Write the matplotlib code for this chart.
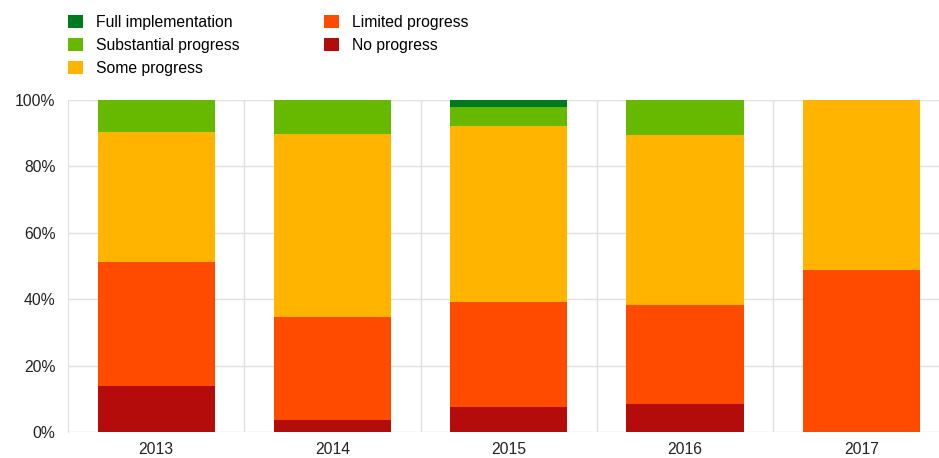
import numpy as np
import matplotlib.pyplot as plt
from matplotlib.patches import Patch

plt.rcParams["font.family"] = ["Liberation Sans", "DejaVu Sans"]

years = ["2013", "2014", "2015", "2016", "2017"]

# shares of recommendations by implementation status, in %
no_progress = [13.8, 3.6, 7.5, 8.4, 0.0]
limited_progress = [37.3, 31.1, 31.7, 29.8, 48.8]
some_progress = [39.1, 54.9, 53.0, 51.2, 51.2]
substantial_progress = [9.8, 10.4, 5.7, 10.6, 0.0]
full_implementation = [0.0, 0.0, 2.1, 0.0, 0.0]

series = [
    ("No progress", no_progress, "#b40b0b"),
    ("Limited progress", limited_progress, "#ff4b00"),
    ("Some progress", some_progress, "#ffb400"),
    ("Substantial progress", substantial_progress, "#67b900"),
    ("Full implementation", full_implementation, "#007a1e"),
]

fig = plt.figure(figsize=(9.39, 4.58), dpi=100)
ax = fig.add_axes([0.0724, 0.0568, 0.9276, 0.7255])

x = np.arange(len(years))
bottom = np.zeros(len(years))
for name, vals, color in series:
    vals = np.array(vals)
    ax.bar(x, vals, width=0.665, bottom=bottom, color=color,
           edgecolor="none", zorder=3)
    bottom += vals

ax.set_xlim(-0.5, 4.44)
ax.set_ylim(0, 100)
ax.set_yticks(np.arange(0, 101, 20))
ax.set_yticklabels([f"{v}%" for v in range(0, 101, 20)])
ax.set_xticks(x)
ax.set_xticklabels(years)

# horizontal grid plus separators between the year columns
ax.grid(axis="y", color="#e0e0e0", linewidth=1, zorder=0)
for sep in np.arange(0.5, len(years) - 1, 1.0):
    ax.axvline(sep, color="#e0e0e0", linewidth=1, zorder=0)
for side in ["top", "right", "bottom"]:
    ax.spines[side].set_visible(False)
ax.spines["left"].set_color("#e0e0e0")
ax.tick_params(length=0, labelsize=11.3, colors="#222222")
ax.tick_params(axis="x", pad=7)
ax.tick_params(axis="y", pad=9)

order = ["Full implementation", "Substantial progress", "Some progress",
         "Limited progress", "No progress"]
colors = {name: color for name, _, color in series}
handles = [Patch(facecolor=colors[n], edgecolor="none", label=n) for n in order]
fig.legend(handles=handles, ncol=2, loc="upper left",
           bbox_to_anchor=(0.072, 0.968), frameon=False, fontsize=11.3,
           handlelength=0.95, handleheight=0.95, handletextpad=0.85,
           labelspacing=0.5, columnspacing=5.4, borderpad=0, borderaxespad=0)

fig.savefig("out.png", dpi=100)
